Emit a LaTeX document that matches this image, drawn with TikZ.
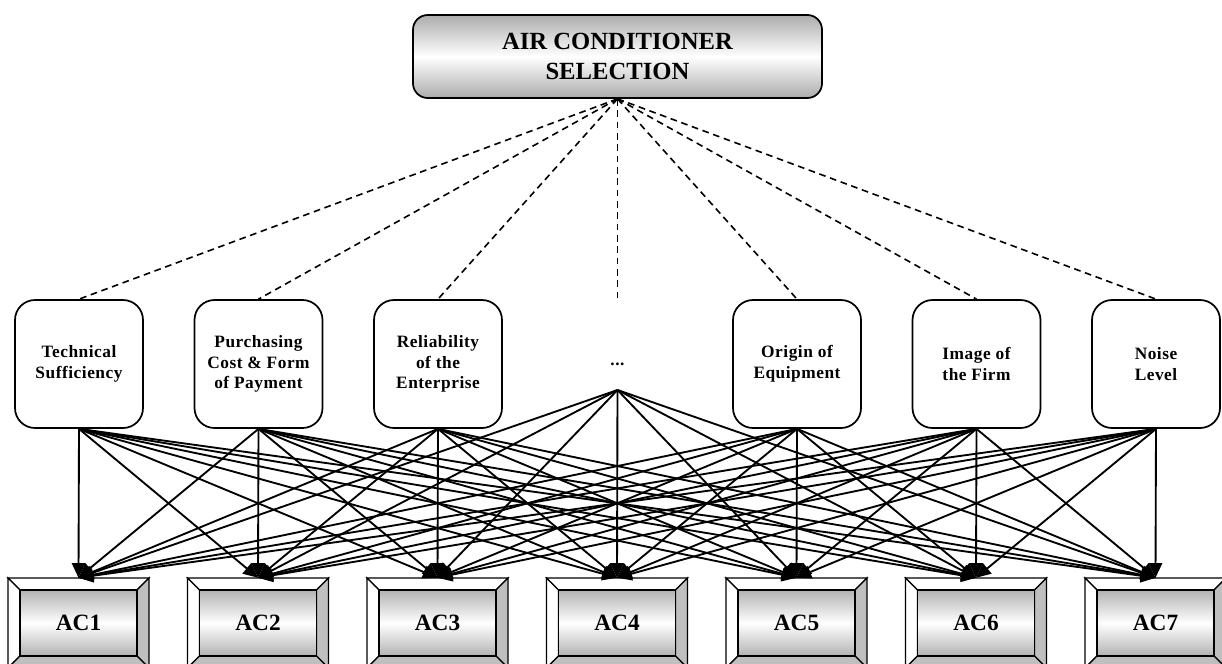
\documentclass[tikz,border=0pt]{standalone}
\usepackage{fontspec}
\setmainfont{Liberation Serif}
\usetikzlibrary{arrows.meta,calc}

\newcommand\acbox[3]{%
  \filldraw[bev, fill=white] ({#2-70.5},578) -- ({#2+70.5},578) -- ({#2+58.5},590) -- ({#2-58.5},590) -- cycle;
  \filldraw[bev, fill=white] ({#2-70.5},578) -- ({#2-58.5},590) -- ({#2-58.5},656) -- ({#2-70.5},668) -- cycle;
  \filldraw[bev, fill=gray!50] ({#2+70.5},578) -- ({#2+58.5},590) -- ({#2+58.5},656) -- ({#2+70.5},668) -- cycle;
  \filldraw[bev, fill=gray!50] ({#2-70.5},668) -- ({#2-58.5},656) -- ({#2+58.5},656) -- ({#2+70.5},668) -- cycle;
  \draw[bev, top color=gray!60, bottom color=gray!60, middle color=white] ({#2-58.5},590) rectangle ({#2+58.5},656);
  \node[alt] (#1) at (#2,623) {#3};
}

\begin{document}
\begin{tikzpicture}[x=0.75pt,y=-0.75pt,
  crit/.style={draw, line width=1.3pt, rounded corners=15pt, minimum width=96pt, minimum height=96pt,
    align=center, font=\bfseries\fontsize{13}{15.5}\selectfont\addfontfeature{LetterSpace=3}, inner sep=2pt},
  goal/.style={draw, line width=1.3pt, rounded corners=11pt, minimum width=306.75pt, minimum height=62.25pt,
    align=center, font=\bfseries\fontsize{18.5}{22.5}\selectfont,
    top color=gray!65, bottom color=gray!65, middle color=white},
  alt/.style={minimum width=105.75pt, minimum height=67.5pt, font=\bfseries\fontsize{17.5}{20}\selectfont},
  bev/.style={draw=black, line width=1pt},
  link/.style={line width=1.4pt, -{Triangle[length=11pt,width=10pt]}},
  dline/.style={line width=1.2pt, dash pattern=on 5pt off 3.5pt},
]
\useasboundingbox (0,0) rectangle (1222,664);

\node[goal] (goal) at (617.5,56.5) {AIR CONDITIONER\\SELECTION};

\node[crit] (c1) at (79,364) {Technical\\Sufficiency};
\node[crit] (c2) at (258.5,364) {Purchasing\\Cost \& Form\\of Payment};
\node[crit] (c3) at (438,364) {Reliability\\of the\\Enterprise};
\node[crit, draw=none] (c4) at (617.5,364) {...};
\node[crit] (c5) at (797,364) {Origin of\\Equipment};
\node[crit] (c6) at (976.5,364) {Image of\\the Firm};
\node[crit] (c7) at (1156,364) {Noise\\Level};

\foreach \i in {1,2,3,5,6,7} {\coordinate (s\i) at (c\i.south);}
\coordinate (s4) at (617.5,390);

\acbox{a1}{78.5}{AC1}
\acbox{a2}{258}{AC2}
\acbox{a3}{437.5}{AC3}
\acbox{a4}{617}{AC4}
\acbox{a5}{796.5}{AC5}
\acbox{a6}{976}{AC6}
\acbox{a7}{1155.5}{AC7}

\foreach \i in {1,...,7} {
  \draw[dline] (goal.south) -- (c\i.north);
}
\foreach \i in {1,...,7} {
  \foreach \j in {1,...,7} {
    \draw[link] (s\i) -- (a\j.north);
  }
}
\end{tikzpicture}
\end{document}
